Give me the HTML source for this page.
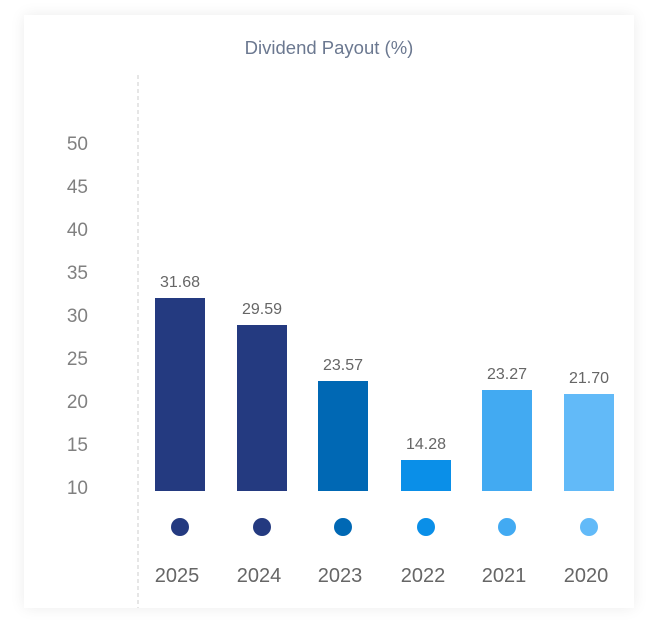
<!DOCTYPE html>
<html><head><style>
body{margin:0;background:#fff;width:658px;height:641px;overflow:hidden;font-family:"Liberation Sans",sans-serif}
.card{position:absolute;left:24px;top:15px;width:610px;height:593px;background:#fff;box-shadow:0 0 14px rgba(0,0,0,0.08)}
</style></head><body>
<div class="card"></div>
<svg width="658" height="641" style="position:absolute;left:0;top:0" font-family="Liberation Sans, sans-serif">
<text x="329" y="54" text-anchor="middle" font-size="18.5" fill="#6b7890">Dividend Payout (%)</text>
<line x1="138" y1="75" x2="138" y2="608" stroke="#ccc" stroke-dasharray="4,3"/>
<g font-size="19" fill="#808080" text-anchor="end">
<text x="88" y="150">50</text><text x="88" y="193">45</text><text x="88" y="236">40</text>
<text x="88" y="279">35</text><text x="88" y="322">30</text><text x="88" y="365">25</text>
<text x="88" y="408">20</text><text x="88" y="451">15</text><text x="88" y="494">10</text>
</g>
<rect x="155" y="298" width="50" height="193" fill="#243a80"/>
<rect x="237" y="325" width="50" height="166" fill="#243a80"/>
<rect x="318" y="381" width="50" height="110" fill="#0068b4"/>
<rect x="401" y="460" width="50" height="31" fill="#0a8fe8"/>
<rect x="482" y="390" width="50" height="101" fill="#42aaf2"/>
<rect x="564" y="394" width="50" height="97" fill="#62baf8"/>
<g font-size="16" fill="#666" text-anchor="middle">
<text x="180" y="287">31.68</text><text x="262" y="314">29.59</text><text x="343" y="370">23.57</text>
<text x="426" y="449">14.28</text><text x="507" y="379">23.27</text><text x="589" y="383">21.70</text>
</g>
<circle cx="180" cy="527" r="9" fill="#243a80"/><circle cx="262" cy="527" r="9" fill="#243a80"/>
<circle cx="343" cy="527" r="9" fill="#0068b4"/><circle cx="426" cy="527" r="9" fill="#0a8fe8"/>
<circle cx="507" cy="527" r="9" fill="#42aaf2"/><circle cx="589" cy="527" r="9" fill="#62baf8"/>
<g font-size="20" fill="#666" text-anchor="middle">
<text x="177" y="582">2025</text><text x="259" y="582">2024</text><text x="340" y="582">2023</text>
<text x="423" y="582">2022</text><text x="504" y="582">2021</text><text x="586" y="582">2020</text>
</g>
</svg>
</body></html>
